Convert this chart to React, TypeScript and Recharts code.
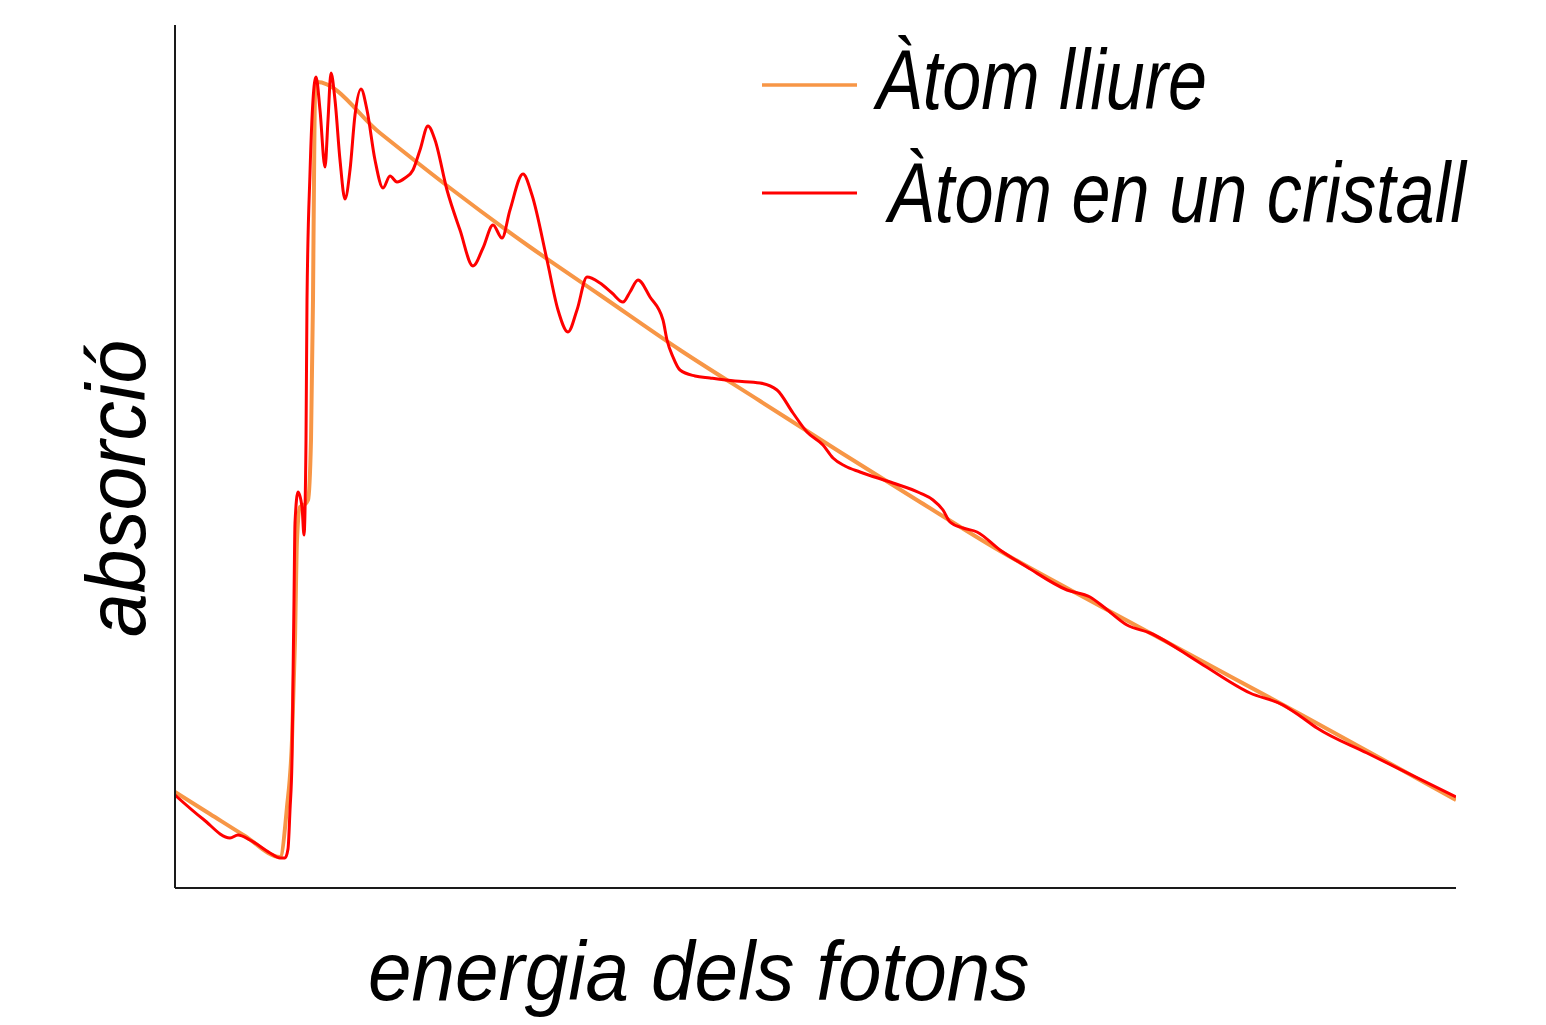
import React from 'react';
import { LineChart, Line, XAxis, YAxis, Customized } from 'recharts';

// Àtom lliure (free atom) — photon energy vs absorption
const freeEnergy = [0, 35, 70, 105, 112, 117, 120, 122, 125, 129, 133, 136, 138, 139, 140, 142, 205, 275, 355, 425, 505, 585, 665, 745, 825, 925, 1025, 1125, 1225, 1281];
const freeAbsorption = [96, 74, 52, 31, 81, 148, 248, 348, 381, 383, 388, 448, 588, 708, 793, 806, 755, 700, 641, 593, 538, 487, 436, 386, 337, 282, 228, 174, 119, 88];

// Àtom en un cristall (atom in a crystal)
const crystalEnergy = [0, 28, 55, 63, 75, 95, 105, 110, 113, 115, 117, 118, 119, 120, 123, 127, 129, 131, 132, 135, 138, 141, 145, 150, 153, 156, 160, 165, 170, 175, 180, 186, 192, 200, 208, 215, 222, 230, 238, 245, 253, 260, 272, 285, 298, 308, 318, 327, 335, 348, 357, 372, 383, 393, 402, 412, 425, 437, 448, 455, 463, 475, 488, 492, 498, 505, 520, 535, 560, 585, 602, 618, 632, 648, 658, 670, 685, 718, 745, 758, 768, 775, 788, 802, 825, 852, 892, 915, 930, 952, 975, 1025, 1075, 1108, 1125, 1142, 1192, 1281];
const crystalAbsorption = [93, 69, 50, 53, 48, 35, 30, 30, 39, 78, 128, 208, 288, 365, 396, 381, 353, 448, 588, 715, 788, 811, 778, 721, 768, 815, 788, 728, 689, 718, 773, 799, 778, 728, 700, 712, 706, 710, 718, 738, 762, 748, 698, 658, 622, 640, 663, 650, 678, 714, 693, 628, 578, 556, 578, 611, 605, 595, 586, 596, 608, 591, 568, 548, 531, 518, 512, 510, 507, 505, 498, 475, 456, 443, 430, 422, 416, 405, 395, 388, 378, 366, 360, 356, 338, 321, 298, 291, 280, 263, 255, 225, 195, 183, 172, 160, 135, 91];

const seriesNames = ['Àtom lliure', 'Àtom en un cristall'];
const seriesColors = ['#F79646', '#FF0000'];
const xLabel = 'energia dels fotons';
const yLabel = 'absorció';

const freeData = freeEnergy.map((e, i) => ({ energy: e, value: freeAbsorption[i] }));
const crystalData = crystalEnergy.map((e, i) => ({ energy: e, value: crystalAbsorption[i] }));

const FONT = "'Liberation Sans', Arial, sans-serif";

const Overlay = () => (
  <g>
    <line x1={762} y1={85} x2={857} y2={85} stroke={seriesColors[0]} strokeWidth={3.5} />
    <text transform="translate(876,109) scale(0.815,1)" x={0} y={0} fontFamily={FONT} fontStyle="italic" fontSize={86} fill="#000">{seriesNames[0]}</text>
    <line x1={762} y1={193} x2={857} y2={193} stroke={seriesColors[1]} strokeWidth={3} />
    <text transform="translate(888,222) scale(0.817,1)" x={0} y={0} fontFamily={FONT} fontStyle="italic" fontSize={86} fill="#000">{seriesNames[1]}</text>
    <text transform="translate(368,1000) scale(0.932,1)" x={0} y={0} fontFamily={FONT} fontStyle="italic" fontSize={84} fill="#000">{xLabel}</text>
    <text transform="translate(145,637) rotate(-90) scale(0.935,1)" x={0} y={0} fontFamily={FONT} fontStyle="italic" fontSize={84} fill="#000">{yLabel}</text>
  </g>
);

export default function App() {
  return (
    <div style={{ position: 'absolute', left: 0, top: 0, width: 1546, height: 1025, background: '#fff' }}>
      <LineChart width={1546} height={1025} margin={{ top: 25, right: 90, bottom: 136, left: 174 }}>
        <XAxis
          dataKey="energy"
          type="number"
          domain={[0, 1281]}
          allowDataOverflow
          height={1}
          tick={false}
          tickLine={false}
          axisLine={{ stroke: '#1a1a1a', strokeWidth: 2 }}
        />
        <YAxis
          dataKey="value"
          type="number"
          domain={[0, 863]}
          allowDataOverflow
          width={1}
          tick={false}
          tickLine={false}
          axisLine={{ stroke: '#1a1a1a', strokeWidth: 2 }}
        />
        <Line
          data={freeData}
          dataKey="value"
          name={seriesNames[0]}
          type="monotone"
          stroke={seriesColors[0]}
          strokeWidth={4}
          dot={false}
          isAnimationActive={false}
        />
        <Line
          data={crystalData}
          dataKey="value"
          name={seriesNames[1]}
          type="monotone"
          stroke={seriesColors[1]}
          strokeWidth={3}
          dot={false}
          isAnimationActive={false}
        />
        <Customized component={Overlay} />
      </LineChart>
    </div>
  );
}
